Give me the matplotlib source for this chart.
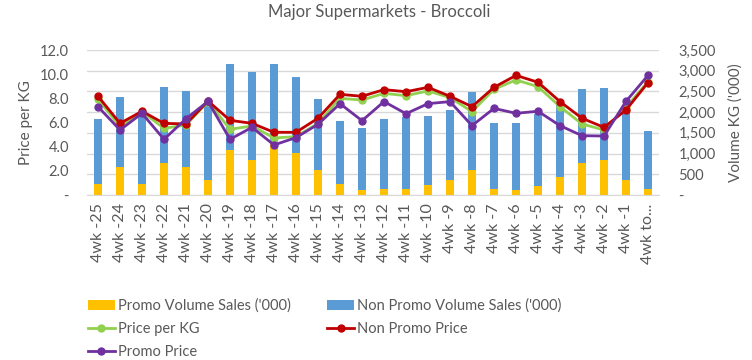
import matplotlib
matplotlib.use("Agg")
import matplotlib.pyplot as plt
import numpy as np

plt.rcParams['font.family'] = ['Lato', 'DejaVu Sans']

categories = ["4wk -25", "4wk -24", "4wk -23", "4wk -22", "4wk -21", "4wk -20", "4wk -19",
              "4wk -18", "4wk -17", "4wk -16", "4wk -15", "4wk -14", "4wk -13", "4wk -12",
              "4wk -11", "4wk -10", "4wk -9", "4wk -8", "4wk -7", "4wk -6", "4wk -5",
              "4wk -4", "4wk -3", "4wk -2", "4wk -1", "4wk to..."]

promo_volume = [274, 684, 274, 772, 684, 370, 1094, 853, 1300, 1014, 603, 266, 121, 145,
                145, 241, 362, 603, 145, 121, 225, 434, 772, 845, 362, 145]
total_volume = [1834, 2366, 1979, 2607, 2510, 2229, 3162, 2969, 3162, 2848, 2317, 1786, 1617,
                1834, 1891, 1907, 2052, 2486, 1738, 1738, 1955, 2245, 2559, 2583, 1979, 1545]
nonpromo_volume = [t - p for t, p in zip(total_volume, promo_volume)]

price_per_kg = [7.92, 5.66, 6.90, 5.52, 5.79, 7.73, 5.44, 5.71, 4.72, 4.83, 5.93, 8.00, 7.86,
                8.41, 8.22, 8.61, 8.06, 6.90, 8.75, 9.52, 8.97, 7.31, 5.88, 5.38, 7.26, 9.38]
nonpromo_price = [8.17, 5.93, 6.93, 5.93, 5.88, 7.78, 6.18, 5.93, 5.19, 5.19, 6.35, 8.33, 8.17,
                  8.72, 8.55, 8.91, 8.17, 7.31, 8.91, 9.90, 9.33, 7.73, 6.35, 5.60, 7.04, 9.30]
promo_price = [7.31, 5.38, 6.76, 4.61, 6.31, 7.75, 4.61, 5.60, 4.14, 4.75, 5.85, 7.56, 6.15,
               7.73, 6.73, 7.56, 7.73, 5.74, 7.17, 6.76, 6.93, 5.74, 4.91, 4.88, 7.75, 9.90]

c_yellow = "#FFC000"
c_blue = "#5B9BD5"
c_green = "#92D050"
c_red = "#C00000"
c_purple = "#7030A0"
c_text = "#595959"

fig = plt.figure(figsize=(7.52, 3.6), dpi=100)
ax = fig.add_axes([87/752, 1 - 195/360, (659-87)/752, (195-50)/360])
ax2 = ax.twinx()

x = np.arange(len(categories))

# bars on the secondary axis
b1 = ax2.bar(x, promo_volume, width=0.4, color=c_yellow, zorder=2)
b2 = ax2.bar(x, nonpromo_volume, width=0.4, bottom=promo_volume, color=c_blue, zorder=2)
ax2.set_ylim(0, 3500)
ax2.set_yticks(np.arange(0, 3501, 500))
ax2.set_yticklabels(["-"] + [f"{v:,}" for v in range(500, 3501, 500)])

# lines on the primary axis, drawn above the bars
ax.set_zorder(ax2.get_zorder() + 1)
ax.patch.set_visible(False)
l1, = ax.plot(x, price_per_kg, color=c_green, lw=2, marker='o', ms=5, zorder=3)
l2, = ax.plot(x, nonpromo_price, color=c_red, lw=2, marker='o', ms=5, zorder=4)
l3, = ax.plot(x, promo_price, color=c_purple, lw=2, marker='o', ms=5, zorder=5)
ax.set_ylim(0, 12)
ax.set_yticks(np.arange(0, 12.1, 2))
ax.set_yticklabels(["-"] + [f"{v:.1f}" for v in np.arange(2, 12.1, 2)])
ax.set_xlim(-0.5, len(categories) - 0.5)
ax.set_xticks(x)
ax.set_xticklabels(categories, rotation=90)

# gridlines drawn on the bar axis (behind the bars)
ax2.grid(axis='y', color='#D9D9D9', lw=1, zorder=0)
ax2.set_axisbelow(True)

for a in (ax, ax2):
    for s in a.spines.values():
        s.set_visible(False)
    a.tick_params(length=0, labelsize=10.5, labelcolor=c_text)
ax.spines['bottom'].set_visible(True)
ax.spines['bottom'].set_color('#D9D9D9')
ax.tick_params(axis='y', pad=13)
ax2.tick_params(axis='y', pad=14)
ax.tick_params(axis='x', pad=6, labelsize=11.5)

ax.set_ylabel("Price per KG", color=c_text, fontsize=11, labelpad=5)
ax2.set_ylabel("Volume KG ('000)", color=c_text, fontsize=11, labelpad=9)

fig.text(379/752, 1 - 12/360, "Major Supermarkets - Broccoli", ha='center', va='center',
         fontsize=12, color=c_text)

handles = [b1, l1, l3, b2, l2]
labels = ["Promo Volume Sales ('000)", "Price per KG", "Promo Price",
          "Non Promo Volume Sales ('000)", "Non Promo Price"]
fig.legend(handles, labels, ncol=2, loc='upper left', bbox_to_anchor=(88/752, 1 - 298.5/360),
           frameon=False, fontsize=10.5, labelcolor=c_text, handlelength=1.85,
           handletextpad=0.2, columnspacing=2.5, labelspacing=0.61, borderaxespad=0,
           borderpad=0, markerscale=1)

fig.savefig("out.png", dpi=100)
